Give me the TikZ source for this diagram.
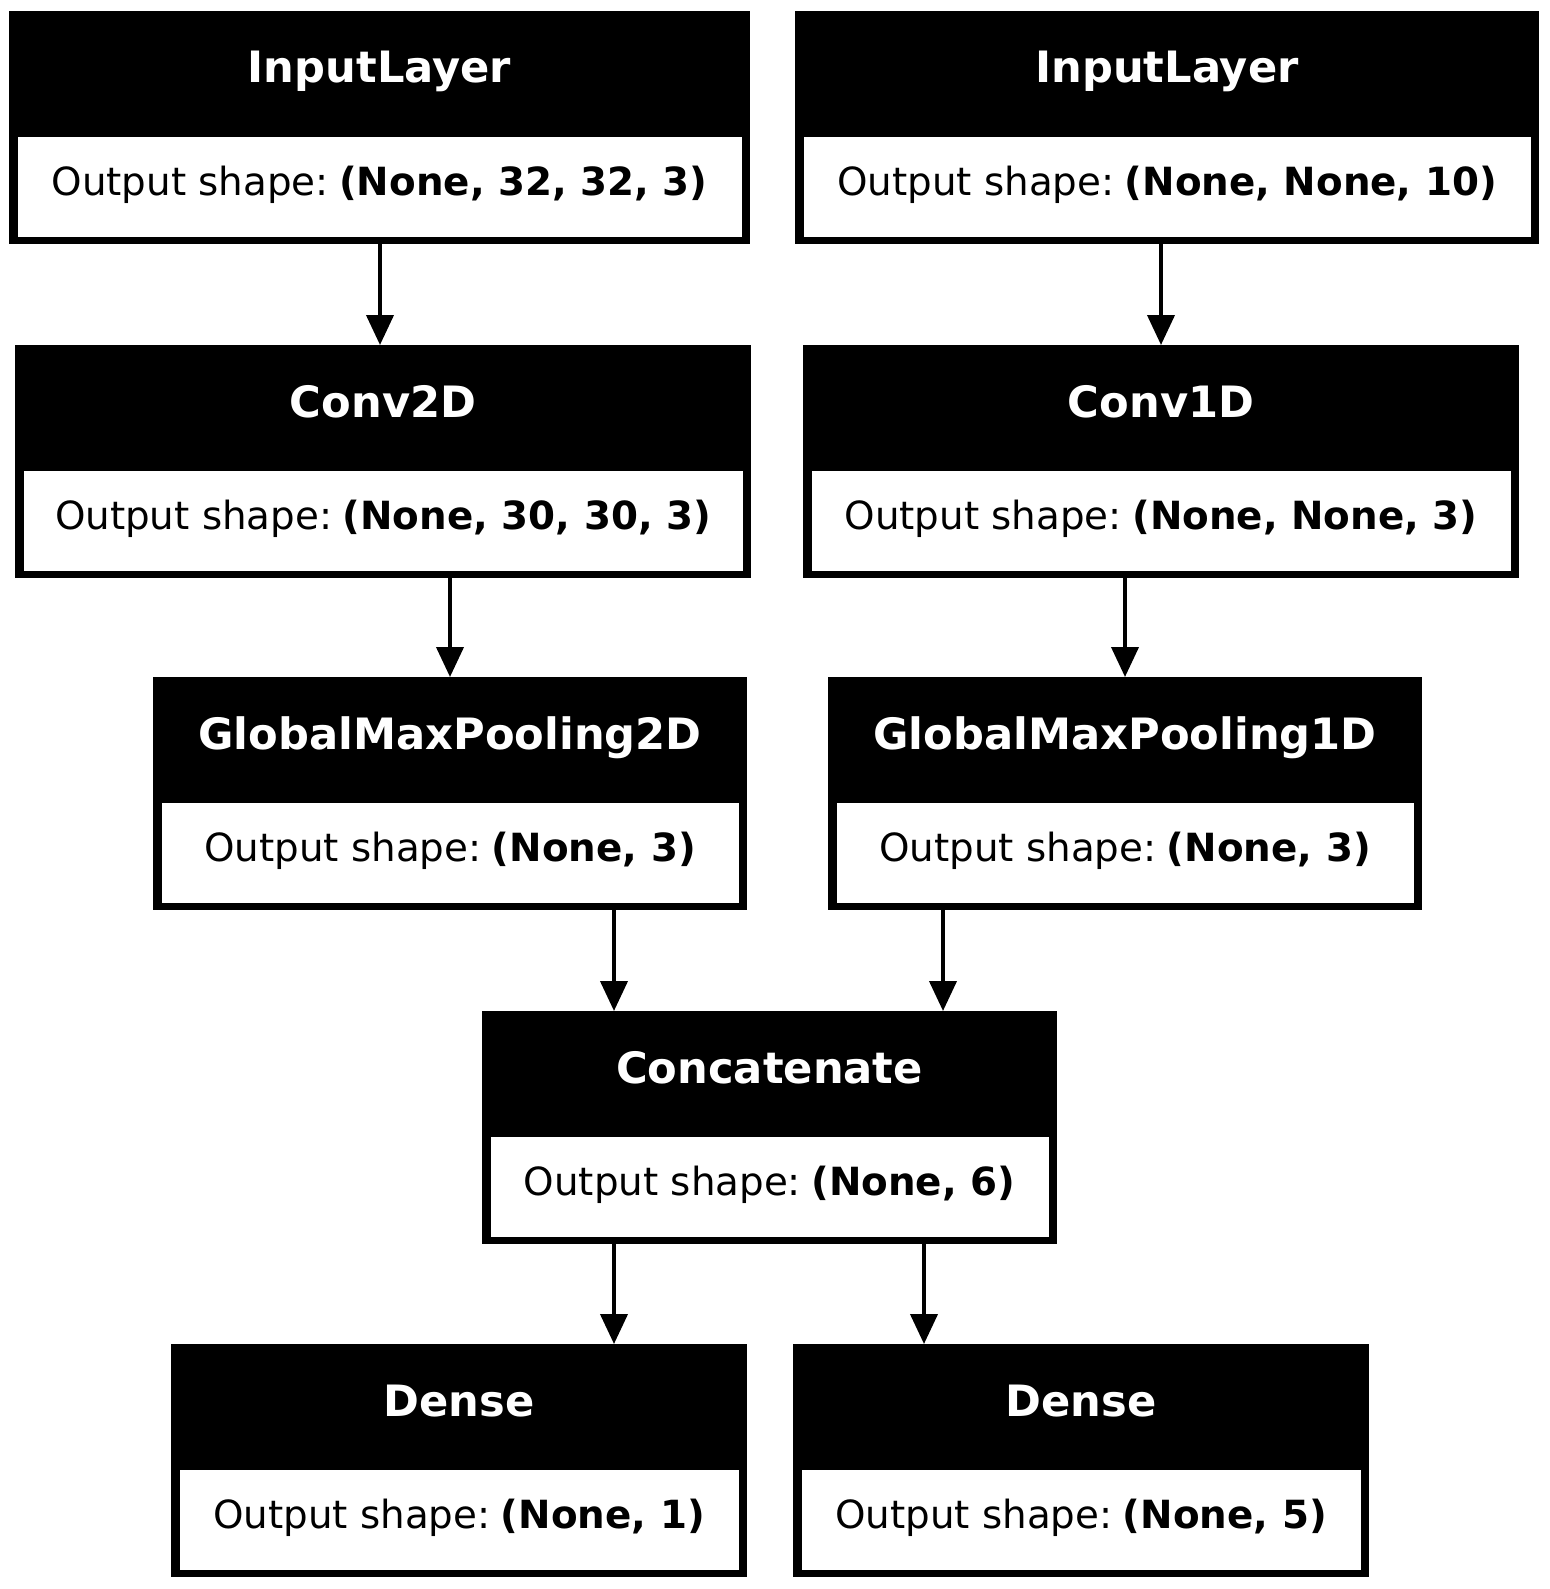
\documentclass[tikz,border=0pt]{standalone}
\usepackage{fontspec}
\setmainfont{DejaVu Sans}
\usetikzlibrary{arrows.meta}

% one Keras layer: name, left, right, top, title, output shape
\newcommand{\kerasLayer}[6]{%
  \pgfmathsetmacro{\boxw}{(#3-#2)/2}
  \node[layer, minimum width=\boxw pt] (#1) at ({(#2+#3)/2},#4) {};
  \fill[white] ([xshift=4.25pt,yshift=3.5pt]#1.south west)
    rectangle ([xshift=-4.25pt,yshift=53.5pt]#1.south east);
  \node[layername] (#1-name) at ([yshift=-36pt]#1.north) {#5};
  \node[shapetext] (#1-shape) at ([yshift=-92.25pt]#1.north) {Output shape:\hspace{0.27em}\textbf{#6}};
}

\begin{document}
\begin{tikzpicture}[x=0.5pt,y=-0.5pt,
  layer/.style={fill=black,anchor=north,inner sep=0pt,outer sep=0pt,minimum height=116.5pt},
  layername/.style={text=white,anchor=base,inner sep=0pt,font=\fontsize{21.6}{26}\selectfont\bfseries},
  shapetext/.style={anchor=base,inner sep=0pt,font=\fontsize{19.4}{23}\selectfont},
  arr/.style={line width=2pt,-{Triangle[length=15pt,width=13.5pt]}}]
  \useasboundingbox (0,0) rectangle (1549,1589);

  \kerasLayer{in2d}{9}{750}{11}{InputLayer}{(None, 32, 32, 3)}
  \kerasLayer{in1d}{795}{1539}{11}{InputLayer}{(None, None, 10)}
  \kerasLayer{conv2d}{15}{751}{345}{Conv2D}{(None, 30, 30, 3)}
  \kerasLayer{conv1d}{803}{1519}{345}{Conv1D}{(None, None, 3)}
  \kerasLayer{gmp2d}{153}{747}{677}{GlobalMaxPooling2D}{(None, 3)}
  \kerasLayer{gmp1d}{828}{1422}{677}{GlobalMaxPooling1D}{(None, 3)}
  \kerasLayer{concat}{482}{1057}{1011}{Concatenate}{(None, 6)}
  \kerasLayer{dense1}{171}{747}{1344}{Dense}{(None, 1)}
  \kerasLayer{dense5}{793}{1369}{1344}{Dense}{(None, 5)}

  \draw[arr] (in2d.south -| 380,0) -- (conv2d.north -| 380,0);
  \draw[arr] (in1d.south -| 1161,0) -- (conv1d.north -| 1161,0);
  \draw[arr] (conv2d.south -| 450,0) -- (gmp2d.north -| 450,0);
  \draw[arr] (conv1d.south -| 1125,0) -- (gmp1d.north -| 1125,0);
  \draw[arr] (gmp2d.south -| 614,0) -- (concat.north -| 614,0);
  \draw[arr] (gmp1d.south -| 943,0) -- (concat.north -| 943,0);
  \draw[arr] (concat.south -| 614,0) -- (dense1.north -| 614,0);
  \draw[arr] (concat.south -| 924,0) -- (dense5.north -| 924,0);
\end{tikzpicture}
\end{document}
